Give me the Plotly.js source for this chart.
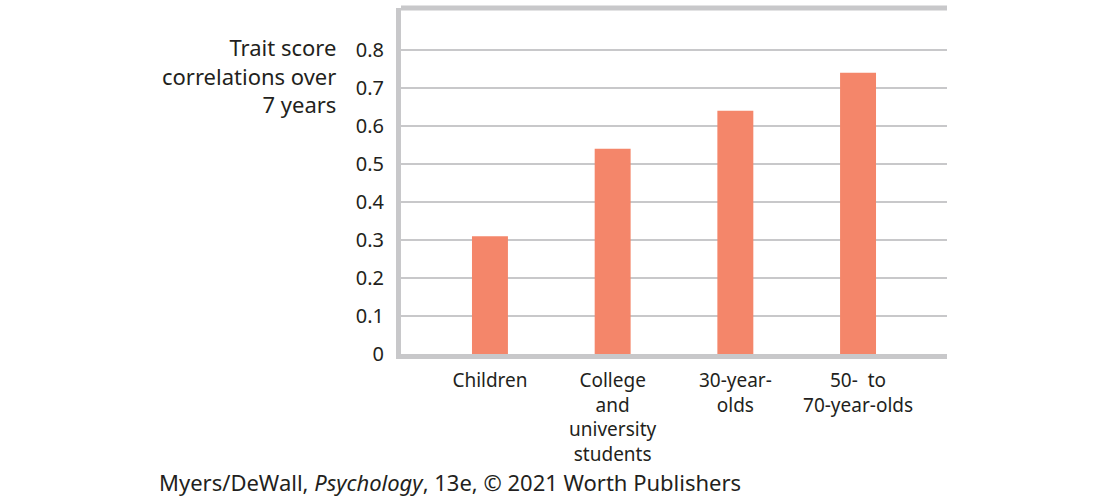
<!DOCTYPE html>
<html>
<head>
<meta charset="utf-8">
<script src="https://cdn.plot.ly/plotly-3.0.1.min.js"></script>
<style>
  html, body { margin: 0; padding: 0; background: #fff; }
  #graph { width: 1107px; height: 504px; }
</style>
</head>
<body>
<div id="graph"></div>
<script>
var groups = ["Children", "College<br>and<br>university<br>students", "30-year-<br>olds", "50-  to<br>70-year-olds"];
var correlations = [0.31, 0.54, 0.64, 0.74];
var yTicks = [0, 0.1, 0.2, 0.3, 0.4, 0.5, 0.6, 0.7, 0.8];
var yTickText = ["0", "0.1", "0.2", "0.3", "0.4", "0.5", "0.6", "0.7", "0.8"];

var textColor = "#231f20";
var lineGray = "#c8c8ca";
var fontFamily = "Noto Sans, Open Sans, sans-serif";

function plotCorrelations() {
  var bars = {
    x: groups,
    y: correlations,
    type: "bar",
    marker: { color: "#f4866a" },
    hoverinfo: "x+y"
  };
  var layout = {
    width: 1107,
    height: 504,
    margin: { l: 401, r: 160, t: 8, b: 150 },
    paper_bgcolor: "#ffffff",
    plot_bgcolor: "#ffffff",
    showlegend: false,
    bargap: 0.707,
    font: { family: fontFamily, color: textColor },
    xaxis: {
      type: "category",
      range: [-0.725, 3.725],
      showgrid: false,
      showline: true,
      linecolor: lineGray,
      linewidth: 5,
      ticks: "",
      ticklabelstandoff: 5,
      tickfont: { size: 19, color: textColor },
      fixedrange: true
    },
    yaxis: {
      range: [0, 0.91],
      tickmode: "array",
      tickvals: yTicks,
      ticktext: yTickText,
      showgrid: true,
      gridcolor: lineGray,
      gridwidth: 2,
      zeroline: false,
      showline: true,
      linecolor: lineGray,
      linewidth: 5,
      ticks: "",
      ticklabelstandoff: 8,
      tickfont: { size: 20, color: textColor },
      fixedrange: true
    },
    shapes: [{
      type: "line",
      xref: "paper", yref: "paper",
      x0: 0, x1: 1, y0: 1, y1: 1,
      line: { color: lineGray, width: 5 }
    }],
    annotations: [{
      text: "Trait score<br>correlations over<br>7 years",
      xref: "paper", yref: "paper",
      x: -0.115, y: 0.936,
      xanchor: "right", yanchor: "top",
      align: "right",
      showarrow: false,
      font: { size: 22, color: textColor }
    }, {
      text: "Myers/DeWall, <i>Psychology</i>, 13e, © 2021 Worth Publishers",
      xref: "paper", yref: "paper",
      x: -0.446, y: -0.32,
      xanchor: "left", yanchor: "top",
      align: "left",
      showarrow: false,
      font: { size: 22, color: textColor }
    }]
  };
  Plotly.newPlot("graph", [bars], layout, { displayModeBar: false, staticPlot: true });
}
plotCorrelations();
</script>
</body>
</html>
